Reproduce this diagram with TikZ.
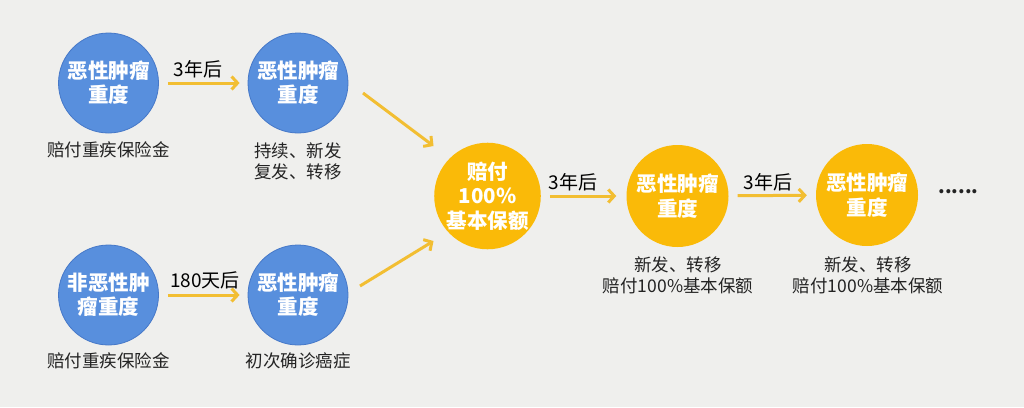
\documentclass[tikz,border=0pt]{standalone}
\usepackage{fontspec}
\newfontfamily\cjk{Noto Sans CJK SC}
\usetikzlibrary{arrows.meta}
\definecolor{bg}{RGB}{239,239,237}
\definecolor{cblue}{RGB}{88,143,221}
\definecolor{cblueline}{RGB}{70,120,200}
\definecolor{corange}{RGB}{250,186,8}
\definecolor{carrow}{RGB}{242,190,50}
\definecolor{ctext}{RGB}{35,35,35}
\tikzset{
  bluecirc/.style={circle, fill=cblue, draw=cblueline, line width=0.8pt, minimum size=100pt, inner sep=0pt,
    text=white, align=center, font=\cjk\bfseries\fontsize{20.5}{24}\selectfont},
  orangecirc/.style={circle, fill=corange, minimum size=102pt, inner sep=0pt,
    text=white, align=center, font=\cjk\bfseries\fontsize{20.5}{24.5}\selectfont},
  note/.style={text=ctext, align=center, inner sep=0pt, font=\cjk\fontsize{17.5}{21}\selectfont},
  steplabel/.style={text=black, inner sep=0pt, font=\cjk\fontsize{19}{22}\selectfont},
  flow/.style={draw=carrow, line width=3pt, -{Straight Barb[length=6pt,width=13pt,line width=3pt]}}
}
\begin{document}
\begin{tikzpicture}[x=1pt,y=-1pt]
\fill[bg] (0,0) rectangle (1024,407);
\useasboundingbox (0,0) rectangle (1024,407);
% circles
\node[bluecirc] (A) at (108.5,83) {恶性肿瘤\\重度};
\node[bluecirc] (B) at (298,83) {恶性肿瘤\\重度};
\node[bluecirc] (C) at (108.5,295) {非恶性肿\\瘤重度};
\node[bluecirc] (D) at (298,295) {恶性肿瘤\\重度};
\node[orangecirc] (E) at (487.5,196) {赔付\\100\%\\基本保额};
\node[orangecirc] (F) at (677.5,196) {恶性肿瘤\\重度};
\node[orangecirc] (G) at (867,195) {恶性肿瘤\\重度};
\node[text=ctext, inner sep=0pt, font=\cjk\bfseries\fontsize{19}{20}\selectfont] (dots) at (958.5,192) {......};
% notes
\node[note] (nA) at (108.5,150) {赔付重疾保险金};
\node[note] (nB) at (298,161.5) {持续、新发\\复发、转移};
\node[note] (nC) at (108.5,361) {赔付重疾保险金};
\node[note] (nD) at (298,361) {初次确诊癌症};
\node[note] (nF) at (678,275) {新发、转移\\赔付100\%基本保额};
\node[note] (nG) at (868,275) {新发、转移\\赔付100\%基本保额};
% arrows
\draw[flow, shorten <=9pt, shorten >=8pt] (A) -- (B);
\draw[flow, shorten <=9pt, shorten >=8pt] (C) -- (D);
\draw[flow] ([shift={(65,10)}]B.center) -- ([shift={(-54,-50)}]E.center);
\draw[flow] ([shift={(62,-9)}]D.center) -- ([shift={(-54,45)}]E.center);
\draw[flow, shorten <=9pt, shorten >=10pt] (E) -- (F);
\draw[flow, shorten <=9pt, shorten >=9pt] (F) -- (G);
% labels
\node[steplabel] (l1) at (198,69) {3年后};
\node[steplabel] (l2) at (205,280) {180天后};
\node[steplabel] (l3) at (573,182) {3年后};
\node[steplabel] (l4) at (768,182) {3年后};
\end{tikzpicture}
\end{document}
